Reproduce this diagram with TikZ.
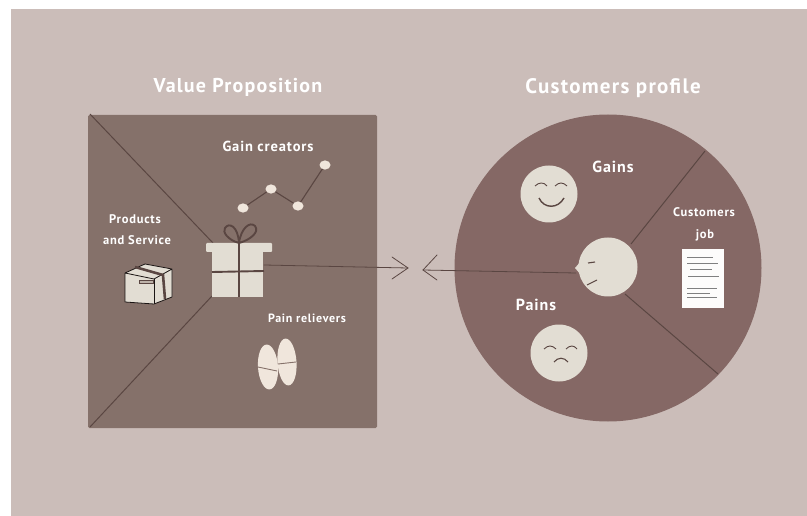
\documentclass[tikz,border=0pt]{standalone}
\usepackage{fontspec}
\setmainfont[LetterSpace=6]{PT Sans}
\definecolor{bgrose}{HTML}{CBBDB9}
\definecolor{squarefill}{HTML}{85716A}
\definecolor{circlefill}{HTML}{856865}
\definecolor{lineDark}{HTML}{5A4642}
\definecolor{cream}{HTML}{E2DDD3}
\definecolor{pillcream}{HTML}{F0E6DC}
\tikzset{
  x=1pt,y=-1pt,
  title/.style={text=white,font=\fontsize{20}{22}\selectfont\bfseries,inner sep=0pt},
  lab/.style={text=white,font=\fontsize{12.5}{14}\selectfont\bfseries,inner sep=0pt},
  wideLab/.style={text=white,font=\fontsize{14.5}{16}\selectfont\bfseries,inner sep=0pt},
  bigLab/.style={text=white,font=\fontsize{16}{18}\selectfont\bfseries,inner sep=0pt},
  divider/.style={draw=lineDark,line width=1pt},
  thin line/.style={draw=lineDark,line width=0.8pt,line cap=round},
  ribbon/.style={draw=lineDark,line width=1.9pt},
  face/.style={circle,fill=cream,inner sep=0pt,minimum size=57pt},
}
\begin{document}
\begin{tikzpicture}
\useasboundingbox (0,0) rectangle (807,516);
\fill[bgrose] (11,9) rectangle (807,516);
% value proposition square
\fill[squarefill,rounded corners=1.5pt] (88,115) rectangle (377,428);
\coordinate (sqTL) at (90,114);
\coordinate (sqBL) at (90,427);
\coordinate (giftTL) at (213,243);
\coordinate (giftBL) at (212,296);
\draw[divider] (sqTL) -- (giftTL);
\draw[divider] (sqBL) -- (giftBL);
% customers circle
\fill[circlefill] (608,268) circle (153.5);
\node[face,minimum size=59pt] (head) at (608,267) {};
\coordinate (rimT) at (705,151);
\coordinate (rimB) at (718,374);
\draw[divider] (rimT) -- (631,244);
\draw[divider] (rimB) -- (625,294);
% gift
\fill[cream] (212,244) rectangle (263,297);
\fill[cream,rounded corners=1pt] (206,243) rectangle (272,252);
\draw[ribbon] (239,243) .. controls (228,240) and (222,232) .. (225,228) .. controls (229,222) and (238,226) .. (239,243);
\draw[ribbon] (239,243) .. controls (241,228) and (250,221) .. (255,226) .. controls (260,232) and (250,240) .. (239,243);
\draw[ribbon] (239,243) -- (239,297);
\draw[ribbon] (212,272) -- (264,271);
\coordinate (giftR) at (264,265);
\coordinate (tipL) at (408,268);
\coordinate (tipR) at (423,270);
% arrows
\draw[thin line] (giftR) -- (tipL);
\draw[thin line] (392,257) -- (tipL) -- (392,279);
\draw[thin line] (576,273) -- (tipR);
\draw[thin line] (437,255) -- (tipR) -- (437,280);
% head face
\fill[cream] (581,261) -- (575,268) -- (581,275) -- cycle;
\draw[line width=1.1pt,draw=lineDark] (588,263) -- (595,262);
\draw[line width=1.1pt,draw=lineDark] (587,285) -- (597,280);
% titles
\node[title] (t1) at (238,87) {Value Proposition};
\node[title,font=\fontsize{21}{23}\selectfont\bfseries] (t2) at (613,88) {Customers profile};
\node[wideLab] (l1) at (268,146) {Gain creators};
\node[lab] (l2) at (135,219) {Products};
\node[lab] (l3) at (137,240) {and Service};
\node[lab,font=\fontsize{12}{14}\selectfont\bfseries] (l4) at (307,318) {Pain relievers};
\node[bigLab] (l5) at (613,167) {Gains};
\node[lab] (l6) at (704,212) {Customers};
\node[lab] (l7) at (705,235) {job};
\node[bigLab] (l8) at (536,305) {Pains};
% chart
\coordinate (c1) at (243,208);
\coordinate (c2) at (271,189);
\coordinate (c3) at (298,206);
\coordinate (c4) at (325,165);
\draw[line width=1.1pt,draw=lineDark] (c1) -- (c2) -- (c3) -- (c4);
\foreach \p in {c1,c2,c3,c4} \fill[pillcream] (\p) ellipse (5.5pt and 4.6pt);
% box
\fill[cream] (125,273) -- (145,264) -- (172,269) -- (172,297) -- (154,304) -- (125,302) -- cycle;
\draw[line width=0.8pt,draw=black!70!lineDark,line join=round] (125,273) -- (125,302) -- (154,304) -- (172,297) -- (172,269) -- (145,264) -- (125,273) -- (154,279) -- (172,269);
\draw[line width=0.8pt,draw=black!70!lineDark] (154,279) -- (154,304);
\draw[line width=2.6pt,draw=lineDark] (135,267) -- (163,275) -- (165,299);
\draw[line width=0.6pt,draw=lineDark,fill=squarefill!40!cream] (139,280) rectangle (153,283);
% pills
\fill[pillcream,rotate around={4:(268,367)}] (268,367) ellipse (10pt and 22.5pt);
\fill[pillcream,rotate around={4:(287,362)}] (287,362) ellipse (9.5pt and 23.5pt);
\draw[line width=0.9pt,draw=squarefill] (258,367) -- (277,371);
\draw[line width=0.9pt,draw=squarefill] (278,364) -- (296,362);
% faces
\node[face] (happy) at (549,194) {};
\node[face] (sad) at (559,353) {};
\draw[line width=0.9pt,draw=lineDark] (535,186) .. controls (539,182) and (544,182) .. (547,186);
\draw[line width=0.9pt,draw=lineDark] (555,186) .. controls (559,182) and (563,182) .. (567,186);
\draw[line width=1.4pt,draw=lineDark] (539,198) .. controls (544,209) and (558,209) .. (564,198);
\draw[line width=0.9pt,draw=lineDark] (544,349) .. controls (548,345) and (552,345) .. (556,349);
\draw[line width=0.9pt,draw=lineDark] (566,349) .. controls (570,345) and (574,345) .. (577,349);
\draw[line width=1.1pt,draw=lineDark] (554,362) .. controls (558,357) and (564,357) .. (568,362);
% document
\fill[white!92!cream] (682,249) rectangle (724,308);
\foreach \a/\b/\c in {687/713/257,687/718/263,690/712/269,688/719/276,687/717/288,687/710/293,687/717/297}
  \draw[line width=0.6pt,draw=gray] (\a,\c) -- (\b,\c);
\end{tikzpicture}
\end{document}
